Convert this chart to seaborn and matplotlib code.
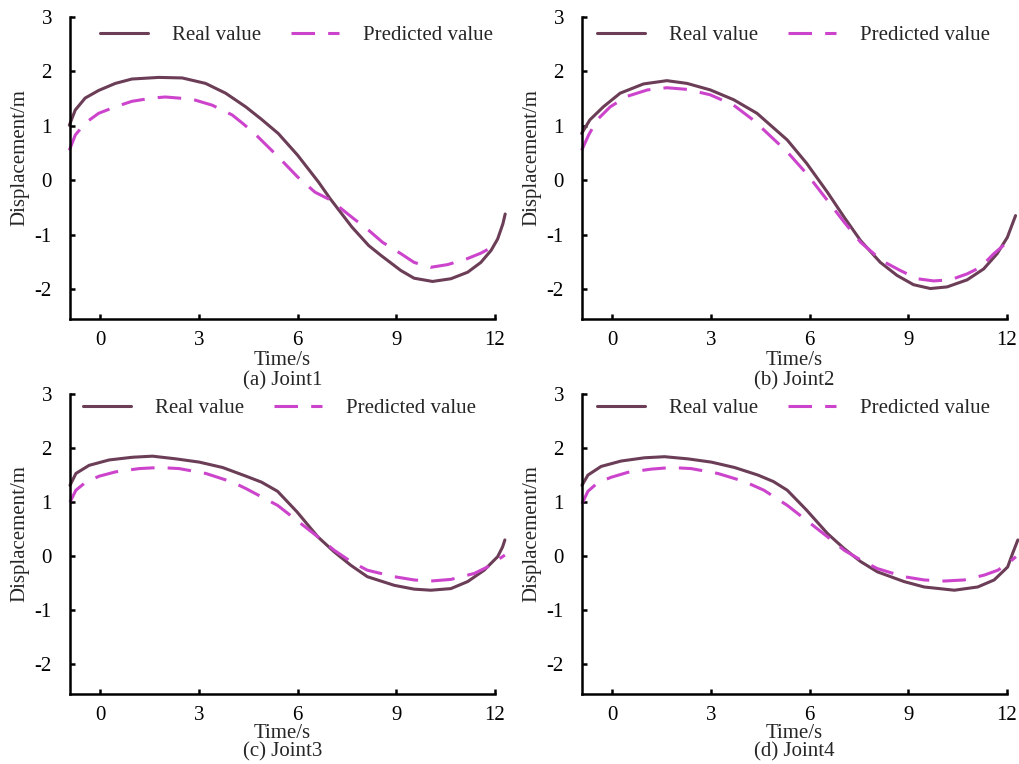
import numpy as np
import pandas as pd
import matplotlib
matplotlib.use("Agg")
import matplotlib.pyplot as plt
import seaborn as sns

# ---------------- data ----------------
captions = ["(a) Joint1", "(b) Joint2", "(c) Joint3", "(d) Joint4"]
series_names = ["Real value", "Predicted value"]
x_ticks = [0, 3, 6, 9, 12]
y_ticks = [-2, -1, 0, 1, 2, 3]
x_tick_labels = ["0", "3", "6", "9", "12"]
y_tick_labels = ["-2", "-1", "0", "1", "2", "3"]

# Joint 1
t_real_1 = [-0.94, -0.76, -0.46, -0.05, 0.46, 0.96, 1.78, 2.49, 3.2, 3.81, 4.42, 4.9,
            5.41, 6.0, 6.63, 6.99, 7.65, 8.16, 8.53, 9.14, 9.54, 10.1, 10.66, 11.17,
            11.57, 11.88, 12.08, 12.24, 12.31]
y_real_1 = [1.01, 1.29, 1.51, 1.65, 1.78, 1.86, 1.89, 1.88, 1.78, 1.60, 1.35, 1.12,
            0.86, 0.46, -0.03, -0.34, -0.86, -1.20, -1.38, -1.66, -1.80, -1.86, -1.81, -1.69,
            -1.51, -1.29, -1.08, -0.80, -0.62]
t_pred_1 = [-0.94, -0.76, -0.46, -0.05, 0.46, 0.96, 1.57, 1.98, 2.79, 3.4, 4.01, 4.32,
            4.69, 5.41, 6.0, 6.53, 6.99, 7.65, 8.16, 8.58, 9.14, 9.54, 10.05, 10.56,
            11.12, 11.57, 11.88, 12.13]
y_pred_1 = [0.55, 0.83, 1.05, 1.23, 1.35, 1.45, 1.51, 1.53, 1.49, 1.38, 1.20, 1.05,
            0.86, 0.43, 0.06, -0.22, -0.36, -0.68, -0.92, -1.14, -1.35, -1.51, -1.60, -1.55,
            -1.45, -1.34, -1.24, -1.16]

# Joint 2
t_real_2 = [-0.93, -0.68, -0.27, 0.24, 0.95, 1.66, 2.27, 2.98, 3.69, 4.4, 5.32, 5.91,
            6.54, 7.05, 7.55, 8.15, 8.66, 9.16, 9.67, 10.18, 10.79, 11.29, 11.7, 12.01,
            12.26]
y_real_2 = [0.86, 1.11, 1.35, 1.60, 1.77, 1.83, 1.78, 1.66, 1.48, 1.23, 0.74, 0.31,
            -0.22, -0.68, -1.11, -1.51, -1.75, -1.92, -1.99, -1.96, -1.83, -1.63, -1.35, -1.05,
            -0.65]
t_pred_2 = [-0.93, -0.72, -0.46, -0.06, 0.44, 1.07, 1.66, 2.27, 2.98, 3.69, 4.3, 5.32,
            5.91, 6.54, 7.05, 7.55, 8.2, 8.76, 9.27, 9.77, 10.28, 10.79, 11.19, 11.6,
            12.06]
y_pred_2 = [0.55, 0.83, 1.11, 1.35, 1.54, 1.66, 1.70, 1.67, 1.57, 1.38, 1.10, 0.52,
            0.12, -0.37, -0.77, -1.14, -1.48, -1.66, -1.81, -1.85, -1.83, -1.72, -1.60, -1.35,
            -1.11]

# Joint 3
t_real_3 = [-0.92, -0.74, -0.34, 0.27, 0.98, 1.59, 2.3, 3.01, 3.72, 4.43, 4.9, 5.39,
            5.98, 6.61, 7.11, 7.62, 8.12, 8.94, 9.54, 10.05, 10.66, 11.17, 11.67, 12.08,
            12.23, 12.3]
y_real_3 = [1.31, 1.53, 1.68, 1.78, 1.83, 1.85, 1.80, 1.74, 1.64, 1.48, 1.37, 1.20,
            0.82, 0.36, 0.08, -0.17, -0.38, -0.54, -0.61, -0.63, -0.60, -0.47, -0.26, -0.01,
            0.17, 0.30]
t_pred_3 = [-0.92, -0.74, -0.44, -0.03, 0.47, 1.18, 1.79, 2.4, 3.21, 4.02, 4.43, 5.39,
            5.98, 6.61, 7.11, 7.62, 8.12, 8.94, 9.54, 10.05, 10.66, 11.37, 11.77, 12.08,
            12.3]
y_pred_3 = [1.00, 1.22, 1.37, 1.48, 1.56, 1.62, 1.64, 1.62, 1.53, 1.37, 1.25, 0.94,
            0.66, 0.36, 0.11, -0.10, -0.26, -0.38, -0.44, -0.46, -0.43, -0.32, -0.20, -0.07,
            0.02]

# Joint 4
t_real_4 = [-0.92, -0.74, -0.34, 0.27, 0.98, 1.59, 2.3, 3.01, 3.72, 4.43, 4.9, 5.32,
            5.91, 6.54, 7.05, 7.55, 8.06, 8.87, 9.48, 10.4, 11.11, 11.61, 12.02, 12.17,
            12.33]
y_real_4 = [1.31, 1.50, 1.66, 1.76, 1.82, 1.84, 1.80, 1.74, 1.64, 1.50, 1.38, 1.22,
            0.85, 0.42, 0.14, -0.10, -0.29, -0.47, -0.57, -0.63, -0.57, -0.44, -0.20, 0.05,
            0.30]
t_pred_4 = [-0.92, -0.74, -0.44, -0.03, 0.47, 1.18, 1.79, 2.4, 3.21, 4.02, 4.61, 5.32,
            5.91, 6.54, 7.05, 7.55, 8.06, 8.87, 9.48, 10.09, 10.7, 11.31, 11.72, 12.02,
            12.27]
y_pred_4 = [0.97, 1.20, 1.36, 1.46, 1.55, 1.61, 1.64, 1.62, 1.53, 1.38, 1.22, 0.94,
            0.66, 0.36, 0.11, -0.07, -0.23, -0.38, -0.44, -0.46, -0.44, -0.35, -0.26, -0.14,
            -0.01]

joints = [
    (t_real_1, y_real_1, t_pred_1, y_pred_1),
    (t_real_2, y_real_2, t_pred_2, y_pred_2),
    (t_real_3, y_real_3, t_pred_3, y_pred_3),
    (t_real_4, y_real_4, t_pred_4, y_pred_4),
]

# ---------------- style ----------------
sns.set_theme(style="ticks")
plt.rcParams["font.family"] = ["Liberation Serif", "DejaVu Serif"]
plt.rcParams["axes.unicode_minus"] = False

REAL_COLOR = "#6B3D56"
PRED_COLOR = "#CC44CC"
FS = 15
LW = 2.2

W, H = 1019, 764
fig = plt.figure(figsize=(W / 100, H / 100), dpi=100)

# axes rectangles in pixels: left, top, right, bottom
boxes = [(70, 17, 495, 319), (582, 17, 1007, 319),
         (70, 394, 495, 694), (582, 394, 1007, 694)]
legend_x = [0.07, 0.035, 0.03, 0.035]
legend_y = [0.94, 0.94, 0.953, 0.953]
# pixel offsets below each axes for the x label and the caption
xlabel_off = [42, 42, 40, 40]
caption_off = [62, 62, 58, 58]

for i, ((tr, yr, tp, yp), box) in enumerate(zip(joints, boxes)):
    l, t, r, b = box
    ax = fig.add_axes([l / W, 1 - b / H, (r - l) / W, (b - t) / H])

    df_real = pd.DataFrame({"t": tr, "y": yr})
    df_pred = pd.DataFrame({"t": tp, "y": yp})
    sns.lineplot(data=df_real, x="t", y="y", ax=ax, color=REAL_COLOR, lw=LW,
                 label=series_names[0], estimator=None, clip_on=False)
    sns.lineplot(data=df_pred, x="t", y="y", ax=ax, color=PRED_COLOR, lw=LW,
                 label=series_names[1], estimator=None, clip_on=False)
    ax.lines[-1].set_dashes([7.7, 4.3])
    for ln in ax.lines:
        ln.set_solid_joinstyle("round")
        ln.set_dash_joinstyle("round")

    ax.set_xlim(-0.92, 12.0)
    ax.set_ylim(-2.55, 3.0)
    ax.set_xticks(x_ticks)
    ax.set_xticklabels(x_tick_labels)
    ax.set_yticks(y_ticks)
    ax.set_yticklabels(y_tick_labels)

    for side in ("top", "right"):
        ax.spines[side].set_visible(False)
    for side in ("left", "bottom"):
        ax.spines[side].set_linewidth(1.8)
        ax.spines[side].set_color("black")
    ax.tick_params(axis="both", direction="in", length=3.8, width=1.8,
                   labelsize=FS, colors="black")
    ax.tick_params(axis="y", pad=13)
    ax.tick_params(axis="x", pad=9)

    ax.set_xlabel("Time/s", fontsize=FS)
    ax.set_ylabel("Displacement/m", fontsize=FS)
    hpx = b - t
    ax.xaxis.set_label_coords(0.5, -xlabel_off[i] / hpx)
    ax.xaxis.label.set_va("center")
    ax.yaxis.set_label_coords(-41 / (r - l), 0.5 + 10 / hpx)
    ax.text(0.5, -caption_off[i] / hpx, captions[i], transform=ax.transAxes,
            ha="center", va="center", fontsize=FS)

    ax.legend(loc="center left", bbox_to_anchor=(legend_x[i], legend_y[i]),
              ncol=2, frameon=False, fontsize=FS, borderpad=0,
              borderaxespad=0, handlelength=2.3, handletextpad=1.15,
              columnspacing=1.45)

fig.savefig("out.png", dpi=100)
